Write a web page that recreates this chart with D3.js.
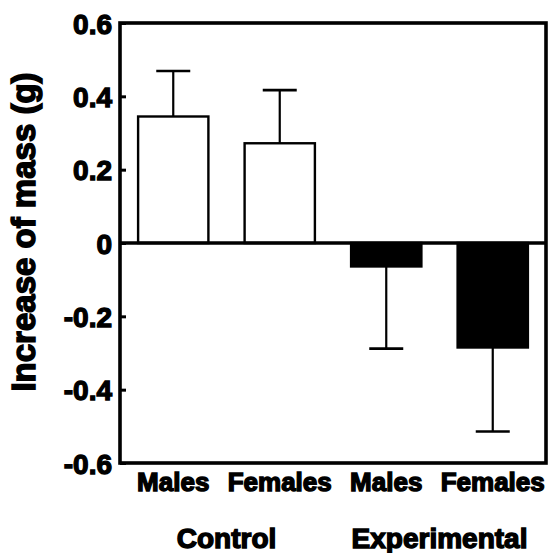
<!DOCTYPE html>
<html>
<head>
<meta charset="utf-8">
<script src="https://cdn.jsdelivr.net/npm/d3@7"></script>
<style>
  body { margin: 0; background: #fff; }
  text { font-family: "Liberation Sans", Arial, Helvetica, sans-serif; font-weight: bold; fill: #000; }
</style>
</head>
<body>
<svg id="chart" width="549" height="553"></svg>
<script>
// values
var barKeys = ["cm", "cf", "em", "ef"];
var sexLabels = ["Males", "Females", "Males", "Females"];
var groupLabels = ["Control", "Experimental"];
var groupOf = ["Control", "Control", "Experimental", "Experimental"];
var means = [0.345, 0.272, -0.064, -0.285];
var errs = [0.124, 0.145, 0.224, 0.229];
var yTicks = [-0.6, -0.4, -0.2, 0, 0.2, 0.4, 0.6];

var svg = d3.select("#chart");
var pLeft = 120, pRight = 546, pTop = 23, pBottom = 463;

var x = d3.scaleBand().domain(barKeys).range([pLeft, pRight]).paddingInner(0.34).paddingOuter(0.17);
var y = d3.scaleLinear().domain([-0.6, 0.6]).range([pBottom, pTop]);

// bars
svg.selectAll("rect.bar").data(barKeys).enter().append("rect")
    .attr("class", "bar")
    .attr("x", function(d){ return x(d); })
    .attr("width", x.bandwidth())
    .attr("y", function(d, i){ return y(Math.max(0, means[i])); })
    .attr("height", function(d, i){ return Math.abs(y(means[i]) - y(0)); })
    .attr("fill", function(d, i){ return groupOf[i] == "Control" ? "#fff" : "#000"; })
    .attr("stroke", "#000")
    .attr("stroke-width", 2.4);

// error bars (one-sided, away from zero)
var capHalf = 17;
function errEnd(i){ return means[i] + (means[i] >= 0 ? errs[i] : -errs[i]); }
var eb = svg.selectAll("g.err").data(barKeys).enter().append("g").attr("class", "err");
eb.append("line")
    .attr("x1", function(d){ return x(d) + x.bandwidth() / 2; })
    .attr("x2", function(d){ return x(d) + x.bandwidth() / 2; })
    .attr("y1", function(d, i){ return y(means[i]); })
    .attr("y2", function(d, i){ return y(errEnd(i)); })
    .attr("stroke", "#000").attr("stroke-width", 2.2);
eb.append("line")
    .attr("x1", function(d){ return x(d) + x.bandwidth() / 2 - capHalf; })
    .attr("x2", function(d){ return x(d) + x.bandwidth() / 2 + capHalf; })
    .attr("y1", function(d, i){ return y(errEnd(i)); })
    .attr("y2", function(d, i){ return y(errEnd(i)); })
    .attr("stroke", "#000").attr("stroke-width", 2.6);

// zero line
svg.append("line")
    .attr("x1", pLeft).attr("x2", pRight)
    .attr("y1", y(0)).attr("y2", y(0))
    .attr("stroke", "#000").attr("stroke-width", 3.4);

// frame
svg.append("rect")
    .attr("x", pLeft).attr("y", pTop)
    .attr("width", pRight - pLeft).attr("height", pBottom - pTop)
    .attr("fill", "none").attr("stroke", "#000").attr("stroke-width", 3.6);

// y axis
var yAxis = d3.axisLeft(y)
    .tickValues(yTicks)
    .tickSizeInner(-6)
    .tickSizeOuter(0)
    .tickPadding(8)
    .tickFormat(function(d){ return d == 0 ? "0" : d3.format(".1f")(d).replace("\u2212", "-"); });
var ga = svg.append("g").attr("transform", "translate(" + pLeft + ",0)").call(yAxis);
ga.select(".domain").remove();
ga.selectAll(".tick line").attr("stroke", "#000").attr("stroke-width", 3);
ga.selectAll(".tick text")
    .attr("font-family", null)
    .attr("font-size", null)
    .attr("dy", "0.36em")
    .style("font-size", "28px")
    .style("stroke", "#000").style("stroke-width", "1.3px");

// category labels
svg.selectAll("text.sex").data(barKeys).enter().append("text")
    .attr("class", "sex")
    .attr("x", function(d){ return x(d) + x.bandwidth() / 2; })
    .attr("y", 491)
    .attr("text-anchor", "middle")
    .style("font-size", "26px")
    .style("stroke", "#000").style("stroke-width", "1.4px")
    .text(function(d, i){ return sexLabels[i]; });

// group labels
svg.selectAll("text.grp").data(groupLabels).enter().append("text")
    .attr("class", "grp")
    .attr("x", function(d){
        var ks = barKeys.filter(function(k, i){ return groupOf[i] == d; });
        return (x(ks[0]) + x(ks[ks.length - 1]) + x.bandwidth()) / 2;
    })
    .attr("y", 548)
    .attr("text-anchor", "middle")
    .style("font-size", "28px")
    .style("stroke", "#000").style("stroke-width", "1.4px")
    .text(function(d){ return d; });

// y title
svg.append("text")
    .attr("transform", "translate(35,232) rotate(-90)")
    .attr("text-anchor", "middle")
    .style("font-size", "33px")
    .style("stroke", "#000").style("stroke-width", "1.5px")
    .text("Increase of mass (g)");
</script>
</body>
</html>
